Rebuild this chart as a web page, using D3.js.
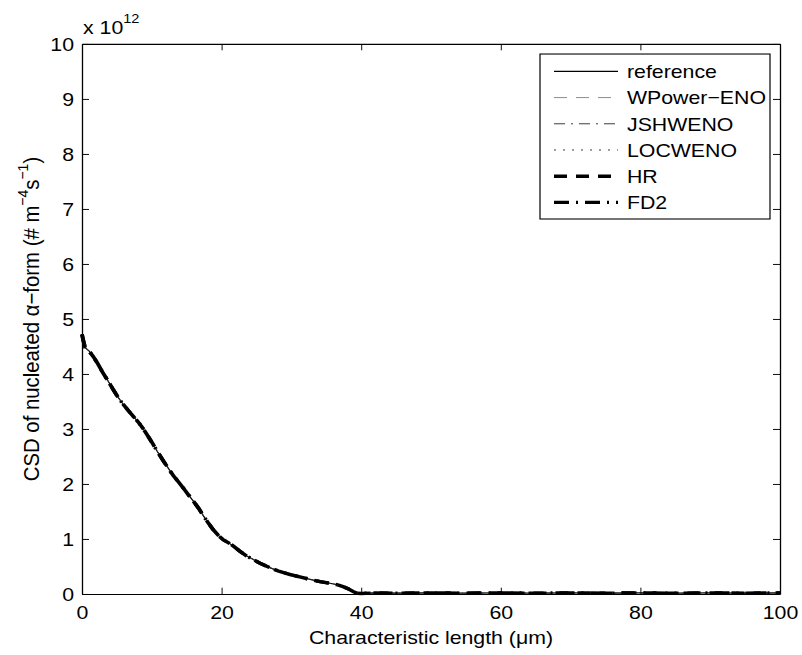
<!DOCTYPE html>
<html lang="en">
<head>
  <meta charset="UTF-8">
  <title>CSD of nucleated alpha-form</title>
  <script src="https://d3js.org/d3.v7.min.js"></script>
  <style>
    * { margin: 0; padding: 0; }
    body { background-color: #fff; }
    svg { display: block; font-family: "Liberation Sans", Arial, sans-serif; }
  </style>
</head>
<body>
  <svg id="chart" width="802" height="655" viewBox="0 0 802 725" preserveAspectRatio="none"></svg>

  <script>
    // characteristic length (um) and CSD values (x 1e12)
    var lengths = [0, 0.2, 0.45, 1, 1.6, 2.3, 3, 3.8, 4.5, 5.2, 5.9, 6.6, 7.35, 8.1, 8.8, 9.5,
      10.2, 10.9, 11.65, 12.4, 13.1, 13.8, 14.5, 15.2, 15.95, 16.7, 17.4, 18.1, 18.8, 19.5,
      20.2, 21, 21.7, 22.6, 23.6, 24.5, 25.5, 26.9, 28.3, 29.8, 31.2, 32.7, 34.1, 35.5, 36.5,
      37.4, 38.2, 38.9, 39.4, 40, 42, 45, 50, 55, 60, 65, 70, 75, 80, 85, 90, 95, 100];
    var csd = [4.72, 4.6, 4.48, 4.42, 4.32, 4.18, 4.02, 3.86, 3.71, 3.57, 3.45, 3.34, 3.23, 3.12, 3.0, 2.86,
      2.72, 2.57, 2.42, 2.28, 2.15, 2.04, 1.93, 1.81, 1.69, 1.56, 1.42, 1.29, 1.17, 1.07,
      0.99, 0.93, 0.87, 0.78, 0.69, 0.63, 0.56, 0.48, 0.41, 0.355, 0.31, 0.265, 0.225, 0.195, 0.17,
      0.135, 0.09, 0.04, 0.015, 0.01, 0.02, 0.015, 0.02, 0.015, 0.02, 0.015, 0.02, 0.015, 0.02, 0.015, 0.02, 0.015, 0.02];

    var seriesNames = ['reference', 'WPower\u2212ENO', 'JSHWENO', 'LOCWENO', 'HR', 'FD2'];
    var xTicks = [0, 20, 40, 60, 80, 100];
    var yTicks = [0, 1, 2, 3, 4, 5, 6, 7, 8, 9, 10];

    // line styles per series
    var styles = [
      { color: '#000', width: 1.3, dash: null },
      { color: '#888', width: 1, dash: '13,9' },
      { color: '#333', width: 1, dash: '11,6,2,6' },
      { color: '#333', width: 1, dash: '2,7' },
      { color: '#000', width: 3.8, dash: '13,9' },
      { color: '#000', width: 3.8, dash: '15,7,2,7' }
    ];

    var pLeft = 82, pRight = 780, pTop = 48.7, pBottom = 657.5;
    var svg = d3.select('#chart');
    var fs = 21.3;

    var x = d3.scaleLinear().domain([0, 100]).range([pLeft, pRight]);
    var y = d3.scaleLinear().domain([0, 10]).range([pBottom, pTop]);

    var line = d3.line()
      .x(function(d) { return x(d[0]); })
      .y(function(d) { return y(d[1]); });
    var pts = lengths.map(function(l, i) { return [l, csd[i]]; });

    // curves (all schemes overlap the reference)
    var gLines = svg.append('g');
    seriesNames.forEach(function(name, i) {
      var s = styles[i];
      gLines.append('path')
        .attr('d', line(pts))
        .attr('fill', 'none')
        .attr('stroke', s.color)
        .attr('stroke-width', s.width)
        .attr('stroke-dasharray', s.dash);
    });

    // axes box + inward ticks
    var tl = 7;
    var xb = d3.axisBottom(x).tickValues(xTicks).tickSizeInner(-tl).tickSizeOuter(0).tickPadding(12);
    var yl = d3.axisLeft(y).tickValues(yTicks).tickSizeInner(-tl).tickSizeOuter(0).tickPadding(8);
    var gx = svg.append('g').attr('transform', 'translate(0,' + pBottom + ')').call(xb);
    var gy = svg.append('g').attr('transform', 'translate(' + pLeft + ',0)').call(yl);
    svg.append('g').attr('transform', 'translate(0,' + pTop + ')')
      .call(d3.axisTop(x).tickValues(xTicks).tickSizeInner(-tl).tickSizeOuter(0).tickFormat(''));
    svg.append('g').attr('transform', 'translate(' + pRight + ',0)')
      .call(d3.axisRight(y).tickValues(yTicks).tickSizeInner(-tl).tickSizeOuter(0).tickFormat(''));
    svg.selectAll('.domain').attr('stroke', '#000').attr('stroke-width', 1.3);
    svg.selectAll('.tick line').attr('stroke', '#000').attr('stroke-width', 1);
    svg.selectAll('.tick text').attr('font-size', fs).attr('fill', '#000')
      .attr('font-family', '"Liberation Sans", Arial, sans-serif');
    gx.selectAll('.tick text').attr('dy', '0.71em');

    // exponent label
    var ex = svg.append('text').attr('x', 83).attr('y', 38).attr('font-size', fs);
    ex.append('tspan').text('x 10');
    ex.append('tspan').attr('font-size', 14.5).attr('dy', -13).text('12');

    // axis labels
    svg.append('text')
      .attr('x', (pLeft + pRight) / 2).attr('y', 713)
      .attr('text-anchor', 'middle').attr('font-size', fs)
      .text('Characteristic length (\u03bcm)');

    var yfs = 22.5;
    var yt = svg.append('text')
      .attr('transform', 'translate(39,' + ((pTop + pBottom) / 2) + ') rotate(-90)')
      .attr('text-anchor', 'middle').attr('font-size', yfs);
    yt.append('tspan').text('CSD of nucleated \u03b1\u2212form (# m');
    yt.append('tspan').attr('font-size', 15.5).attr('dy', -11).text('\u22124');
    yt.append('tspan').attr('dy', 11).text('s');
    yt.append('tspan').attr('font-size', 15.5).attr('dy', -11).text('\u22121');
    yt.append('tspan').attr('dy', 11).text(')');

    // legend
    var lg = svg.append('g');
    lg.append('rect')
      .attr('x', 540).attr('y', 59.8).attr('width', 230).attr('height', 182.6)
      .attr('fill', '#fff').attr('stroke', '#000').attr('stroke-width', 1.2);
    seriesNames.forEach(function(name, i) {
      var s = styles[i];
      var ry = 79 + i * 29;
      lg.append('line')
        .attr('x1', 554).attr('x2', 618).attr('y1', ry).attr('y2', ry)
        .attr('stroke', s.color).attr('stroke-width', s.width)
        .attr('stroke-dasharray', s.dash);
      lg.append('text')
        .attr('x', 627).attr('y', ry).attr('dy', '0.36em')
        .attr('font-size', fs).text(name);
    });
  </script>
</body>
</html>
